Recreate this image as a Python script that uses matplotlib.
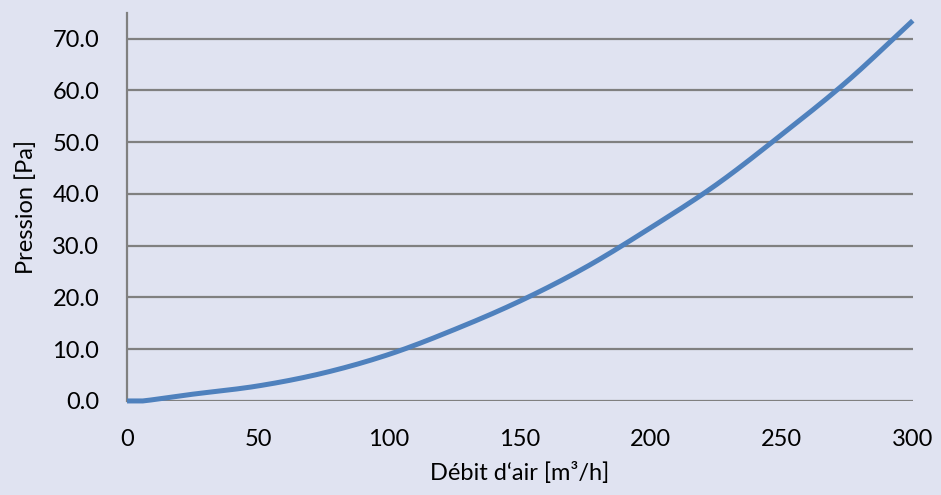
import matplotlib
matplotlib.use("Agg")
import matplotlib.pyplot as plt
import numpy as np

# airflow [m3/h] vs pressure [Pa]
debit = [0, 6, 25, 50, 75, 100, 125, 150, 175, 200, 225, 250, 275, 300]
pression = [0.0, 0.0, 1.3, 2.9, 5.4, 9.0, 13.8, 19.3, 25.8, 33.5, 41.8, 51.5, 61.8, 73.5]
x_ticks = [0, 50, 100, 150, 200, 250, 300]
y_ticks = [0, 10, 20, 30, 40, 50, 60, 70]

BG = "#e0e3f1"
GRID = "#808080"
LINE = "#4f81bd"


def smooth(xs, ys, n=20):
    # catmull-rom through the points, like excel's smoothed line
    xs = np.asarray(xs, float)
    ys = np.asarray(ys, float)
    px = np.concatenate([[2 * xs[0] - xs[1]], xs, [2 * xs[-1] - xs[-2]]])
    py = np.concatenate([[2 * ys[0] - ys[1]], ys, [2 * ys[-1] - ys[-2]]])
    t = np.linspace(0, 1, n)
    outx, outy = [], []
    for i in range(1, len(px) - 2):
        for p, out in ((px, outx), (py, outy)):
            p0, p1, p2, p3 = p[i - 1], p[i], p[i + 1], p[i + 2]
            out.extend(0.5 * (2 * p1 + (-p0 + p2) * t
                              + (2 * p0 - 5 * p1 + 4 * p2 - p3) * t ** 2
                              + (-p0 + 3 * p1 - 3 * p2 + p3) * t ** 3))
    return np.array(outx), np.array(outy)


plt.rcParams["font.family"] = ["Lato", "DejaVu Sans"]

fig = plt.figure(figsize=(9.41, 4.95), dpi=100, facecolor=BG)
ax = fig.add_axes([0.135, 0.19, 0.835, 0.784])
ax.set_facecolor(BG)

sx, sy = smooth(debit, pression)
ax.plot(sx, np.maximum(sy, 0), color=LINE, lw=3.6, solid_capstyle="butt", zorder=3, clip_on=False)

ax.set_xlim(0, 300)
ax.set_ylim(0, 75)
ax.set_xticks(x_ticks)
ax.set_yticks(y_ticks)
ax.set_yticklabels([f"{v:.1f}" for v in y_ticks])
ax.tick_params(axis="both", length=0, labelsize=17, colors="black")
ax.tick_params(axis="x", pad=20)
ax.tick_params(axis="y", pad=20)

for v in y_ticks:
    ax.axhline(v, color=GRID, lw=1.6, zorder=1)

for s in ["top", "right", "bottom"]:
    ax.spines[s].set_visible(False)
ax.spines["left"].set_color(GRID)
ax.spines["left"].set_linewidth(1.6)

ax.set_xlabel("Débit d‘air [m³/h]", fontsize=17, labelpad=9)
ax.set_ylabel("Pression [Pa]", fontsize=17, labelpad=11)

plt.savefig("out.png", dpi=100, facecolor=BG)
